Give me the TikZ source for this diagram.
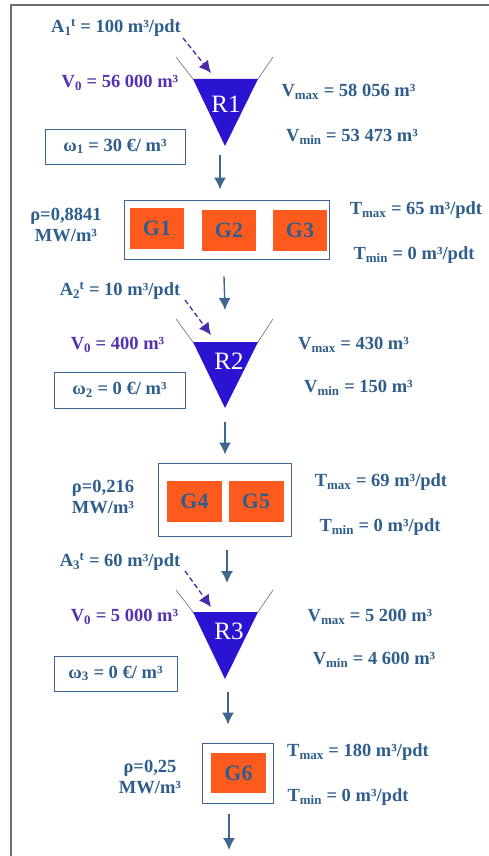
\documentclass[tikz,border=0pt]{standalone}
\usepackage{fontspec}
\setmainfont{Liberation Serif}
\usetikzlibrary{arrows.meta}
\definecolor{txtblue}{HTML}{2F5E8C}
\definecolor{vpurple}{HTML}{5530B0}
\definecolor{resblue}{HTML}{2A14D2}
\definecolor{genorange}{HTML}{FF5A1E}
\definecolor{boxblue}{HTML}{3F6690}
\definecolor{framegray}{HTML}{6E6E6E}
\definecolor{dashpurple}{HTML}{4A2AA8}
\newcommand{\sub}[1]{\textsubscript{#1}}
\newcommand{\AT}[1]{A\textsubscript{#1}\kern-0.5pt\textsuperscript{t}}
\tikzset{
  lbl/.style={text=txtblue, font=\bfseries\fontsize{18.5}{21}\selectfont, inner sep=0pt, align=center},
  vlbl/.style={lbl, text=vpurple},
  costbox/.style={lbl, draw=boxblue, line width=0.9pt},
  genframe/.style={draw=boxblue, line width=0.9pt, inner sep=0pt},
  gen/.style={fill=genorange, text=txtblue, font=\bfseries\fontsize{22}{24}\selectfont, minimum width=54pt, minimum height=41pt, inner sep=0pt},
  res/.style={fill=resblue},
  funnel/.style={draw=black!65, line width=0.5pt},
  rlbl/.style={text=white, font=\fontsize{25}{27}\selectfont, inner sep=0pt},
  flow/.style={draw=boxblue, line width=1.4pt, -{Latex[length=12pt,width=12pt]}},
  inflow/.style={draw=dashpurple, line width=1.3pt, dash pattern=on 5pt off 3pt, -{Latex[length=12pt,width=12pt]}},
  frameline/.style={draw=framegray, line width=2pt}
}
\begin{document}
\begin{tikzpicture}[x=1pt,y=-1pt]
\useasboundingbox (0,0) rectangle (489,856);
\fill[white] (0,0) rectangle (489,856);
\draw[frameline] (11,856) -- (11,5.5) -- (489,5.5);

% ---------- R1 ----------
\coordinate (t1l) at (193,79); \coordinate (t1r) at (258,79); \coordinate (apex1) at (225,146);
\fill[res] (t1l) -- (t1r) -- (apex1) -- cycle;
\draw[funnel] (176,57) -- (t1l); \draw[funnel] (273,57) -- (t1r);
\node[rlbl] (R1) at (226,104) {R1};
\node[lbl] (A1) at (116,28) {\AT{1} = 100 m³/pdt};
\coordinate (in1) at (211,73);
\draw[inflow] (183,38) -- (in1);
\node[vlbl] (V01) at (120,83) {V\sub{0} = 56 000 m³};
\node[lbl] (Vmax1) at (348.5,92) {V\sub{max} = 58 056 m³};
\node[lbl] (Vmin1) at (352,137) {V\sub{min} = 53 473 m³};
\node[costbox, minimum width=140pt, minimum height=35pt] (w1) at (115,146.5) {ω\sub{1} = 30 €/ m³};

% ---------- G1-G3 ----------
\node[genframe, minimum width=205pt, minimum height=59pt] (GB1) at (226.5,229.5) {};
\node[gen] (G1) at (157,228.5) {G1};
\node[gen] (G2) at (229,230.5) {G2};
\node[gen] (G3) at (300,230.5) {G3};
\node[lbl] (rho1) at (66,225) {ρ=0,8841\\MW/m³};
\node[lbl] (Tmax1) at (416,210) {T\sub{max} = 65 m³/pdt};
\node[lbl] (Tmin1) at (414,255) {T\sub{min} = 0 m³/pdt};
\draw[flow] ([xshift=-5pt,yshift=-9pt]apex1) -- ([xshift=-6.5pt,yshift=10pt]GB1.north);

% ---------- R2 ----------
\coordinate (t2l) at (193,342); \coordinate (t2r) at (258,342); \coordinate (apex2) at (225,408);
\fill[res] (t2l) -- (t2r) -- (apex2) -- cycle;
\draw[funnel] (176,319) -- (t2l); \draw[funnel] (273,319) -- (t2r);
\node[rlbl] (R2) at (229,361) {R2};
\node[lbl] (A2) at (120,291) {\AT{2} = 10 m³/pdt};
\coordinate (in2) at (211,335);
\draw[inflow] (185,300) -- (in2);
\node[vlbl] (V02) at (117.5,345) {V\sub{0} = 400 m³};
\node[lbl] (Vmax2) at (353.5,345) {V\sub{max} = 430 m³};
\node[lbl] (Vmin2) at (358.5,388) {V\sub{min} = 150 m³};
\node[costbox, minimum width=131pt, minimum height=36pt] (w2) at (119.5,390) {ω\sub{2} = 0 €/ m³};
\draw[flow] ([xshift=-2.5pt,yshift=-17pt]GB1.south) -- ([yshift=32pt]t2l -| apex2);

% ---------- G4-G5 ----------
\node[genframe, minimum width=133pt, minimum height=73pt] (GB2) at (224.5,499.5) {};
\node[gen, minimum width=55pt] (G4) at (194.5,501.5) {G4};
\node[gen, minimum width=55pt] (G5) at (256,501.5) {G5};
\node[lbl] (rho2) at (103,497) {ρ=0,216\\MW/m³};
\node[lbl] (Tmax2) at (381,482) {T\sub{max} = 69 m³/pdt};
\node[lbl] (Tmin2) at (380,527) {T\sub{min} = 0 m³/pdt};
\draw[flow] ([yshift=-14pt]apex2) -- ([xshift=0.5pt,yshift=8pt]GB2.north);

% ---------- R3 ----------
\coordinate (t3l) at (193,612); \coordinate (t3r) at (258,612); \coordinate (apex3) at (225,679);
\fill[res] (t3l) -- (t3r) -- (apex3) -- cycle;
\draw[funnel] (176,590) -- (t3l); \draw[funnel] (273,590) -- (t3r);
\node[rlbl] (R3) at (229,631) {R3};
\node[lbl] (A3) at (120,562) {\AT{3} = 60 m³/pdt};
\coordinate (in3) at (211,607);
\draw[inflow] (185,571) -- (in3);
\node[vlbl] (V03) at (124.5,617) {V\sub{0} = 5 000 m³};
\node[lbl] (Vmax3) at (370,617) {V\sub{max} = 5 200 m³};
\node[lbl] (Vmin3) at (374,660) {V\sub{min} = 4 600 m³};
\node[costbox, minimum width=123pt, minimum height=35pt] (w3) at (115.5,673.5) {ω\sub{3} = 0 €/ m³};
\draw[flow] ([xshift=2.5pt,yshift=-14pt]GB2.south) -- ([xshift=2pt,yshift=29pt]t3l -| apex3);

% ---------- G6 ----------
\node[genframe, minimum width=71pt, minimum height=60pt] (GB3) at (237.5,773) {};
\node[gen, minimum width=55pt, minimum height=40pt] (G6) at (238.5,773) {G6};
\node[lbl] (rho3) at (150,777) {ρ=0,25\\MW/m³};
\node[lbl] (Tmax3) at (358,752) {T\sub{max} = 180 m³/pdt};
\node[lbl] (Tmin3) at (348,797) {T\sub{min} = 0 m³/pdt};
\draw[flow] ([xshift=3pt,yshift=-13pt]apex3) -- ([xshift=-9.5pt,yshift=18pt]GB3.north);
\coordinate (out) at (229,850);
\draw[flow] ([xshift=-8.5pt,yshift=-11pt]GB3.south) -- (out);
\end{tikzpicture}
\end{document}
